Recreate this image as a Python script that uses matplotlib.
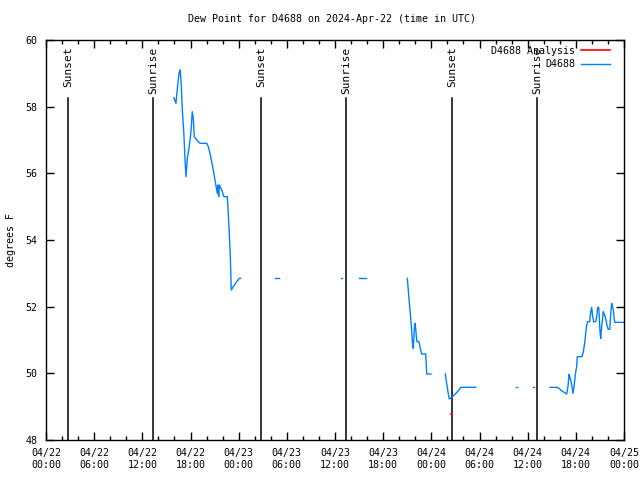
import pandas as pd
import matplotlib
matplotlib.use('Agg')
import matplotlib.pyplot as plt
import matplotlib.dates as mdates

base = pd.Timestamp('2024-04-22 00:00')

# hours after 04/22 00:00 UTC, dew point in F (one list per unbroken stretch)
h1 = [15.94, 16.19, 16.36, 16.57, 16.69, 16.82, 16.98, 17.19, 17.31, 17.44, 17.60, 17.81,
      18.06, 18.22, 18.35, 18.47, 18.77, 19.18, 20.02, 20.22, 20.43, 20.76, 21.05, 21.34,
      21.42, 21.51, 21.59, 21.89, 22.17, 22.58, 22.67, 22.83, 22.96, 23.08, 23.33, 23.75,
      24.08, 24.25]
d1 = [58.27, 58.1, 58.55, 59.0, 59.1, 58.8, 57.92, 57.1, 56.45, 55.9, 56.45, 56.75,
      57.25, 57.85, 57.65, 57.1, 57.0, 56.9, 56.9, 56.8, 56.6, 56.2, 55.8, 55.4,
      55.65, 55.3, 55.65, 55.5, 55.3, 55.3, 54.95, 54.2, 53.5, 52.5, 52.6, 52.75,
      52.85, 52.85]
h2 = [28.53, 29.02]
d2 = [52.85, 52.85]
h3 = [36.75, 36.87]
d3 = [52.85, 52.85]
h4 = [38.99, 39.86]
d4 = [52.85, 52.85]
h5 = [45.01, 45.06, 45.18, 45.30, 45.43, 45.55, 45.63, 45.75, 45.88, 45.96, 46.05, 46.13,
      46.21, 46.46, 46.55, 46.67, 46.80, 47.30, 47.37, 47.42, 47.96]
d5 = [52.85, 52.7, 52.35, 52.0, 51.65, 51.3, 50.95, 50.75, 51.35, 51.5, 51.35, 51.1,
      50.95, 50.95, 50.85, 50.7, 50.58, 50.58, 50.25, 49.98, 49.98]
h6 = [49.74, 49.91, 50.07, 50.24, 50.54, 50.95, 51.36, 51.69, 53.53]
d6 = [49.98, 49.7, 49.45, 49.23, 49.28, 49.37, 49.48, 49.58, 49.58]
h7 = [58.51, 58.63]
d7 = [49.58, 49.58]
h8 = [60.70, 60.83]
d8 = [49.58, 49.58]
h9 = [62.78, 63.69, 63.94, 64.24, 64.53, 64.86, 65.02, 65.15, 65.27, 65.40, 65.52, 65.65,
      65.77, 65.86, 66.02, 66.11, 66.18, 66.77, 66.93, 67.10, 67.23, 67.35, 67.48, 67.73,
      67.85, 67.97, 68.10, 68.22, 68.47, 68.60, 68.72, 68.85, 68.92, 69.01, 69.10, 69.22,
      69.35, 69.42, 69.54, 69.67, 69.79, 69.92, 70.04, 70.22, 70.29, 70.38, 70.47, 70.54,
      70.67, 70.75, 70.84, 71.66, 72.0]
d9 = [49.58, 49.58, 49.54, 49.48, 49.43, 49.38, 49.6, 49.97, 49.88, 49.75, 49.6, 49.4,
      49.6, 49.8, 50.1, 50.2, 50.5, 50.5, 50.65, 50.9, 51.2, 51.45, 51.55, 51.55,
      51.85, 51.98, 51.7, 51.55, 51.55, 51.7, 51.98, 51.98, 51.7, 51.25, 51.05, 51.4,
      51.68, 51.85, 51.78, 51.7, 51.55, 51.4, 51.32, 51.32, 51.55, 51.9, 52.1, 52.02,
      51.9, 51.7, 51.53, 51.53, 51.53]

# analysis point
ha = [50.50, 50.58]
da = [48.78, 48.78]

sun_hours = [2.74, 13.33, 26.78, 37.37, 50.57, 61.16]
sun_labels = ['Sunset', 'Sunrise', 'Sunset', 'Sunrise', 'Sunset', 'Sunrise']

def t(hours):
    return base + pd.to_timedelta(hours, unit='h')

plt.rcParams['font.family'] = ['DejaVu Sans Mono']
plt.rcParams['font.size'] = 7.2

fig = plt.figure(figsize=(6.4, 4.8), dpi=100)
ax = fig.add_axes([46 / 640, 40 / 480, 578 / 640, 400 / 480])

for sh, sl in zip(sun_hours, sun_labels):
    ax.plot([t(sh), t(sh)], [48, 58.25], color='black', linewidth=1.1)
    ax.text(t(sh), 59.8, sl, rotation=90, ha='center', va='top', fontsize=8)

ax.plot(t(ha), da, color='red', linewidth=1.2, label='D4688 Analysis')
blue = '#0080ff'
segs = [(h1, d1), (h2, d2), (h3, d3), (h4, d4), (h5, d5), (h6, d6), (h7, d7), (h8, d8), (h9, d9)]
for i, (hh, dd) in enumerate(segs):
    ax.plot(t(hh), dd, color=blue, linewidth=1.0, label='D4688' if i == 0 else None)

ax.set_xlim(t(0), t(72))
ax.set_ylim(48, 60)
ax.set_yticks([48, 50, 52, 54, 56, 58, 60])
ax.xaxis.set_major_locator(mdates.HourLocator(byhour=[0, 6, 12, 18]))
ax.xaxis.set_minor_locator(mdates.HourLocator(interval=2))
ax.xaxis.set_major_formatter(mdates.DateFormatter('%m/%d\n%H:%M'))
ax.tick_params(which='both', direction='in', top=True, right=True, width=1)
ax.tick_params(which='major', length=6, pad=6)
ax.tick_params(which='minor', length=3)
for s in ax.spines.values():
    s.set_linewidth(1)

ax.set_ylabel('degrees F')
ax.yaxis.set_label_coords(-0.052, 0.5)
fig.suptitle('Dew Point for D4688 on 2024-Apr-22 (time in UTC)', x=332 / 640, y=1 - 19 / 480,
             va='center', fontsize=7.2)

ax.legend(loc='upper right', bbox_to_anchor=(1 - 8 / 578, 1), frameon=False,
          markerfirst=False, handlelength=2.9, handletextpad=0.6, borderaxespad=0.3,
          borderpad=0.3, labelspacing=0.35)

plt.savefig('out.png', dpi=100)
